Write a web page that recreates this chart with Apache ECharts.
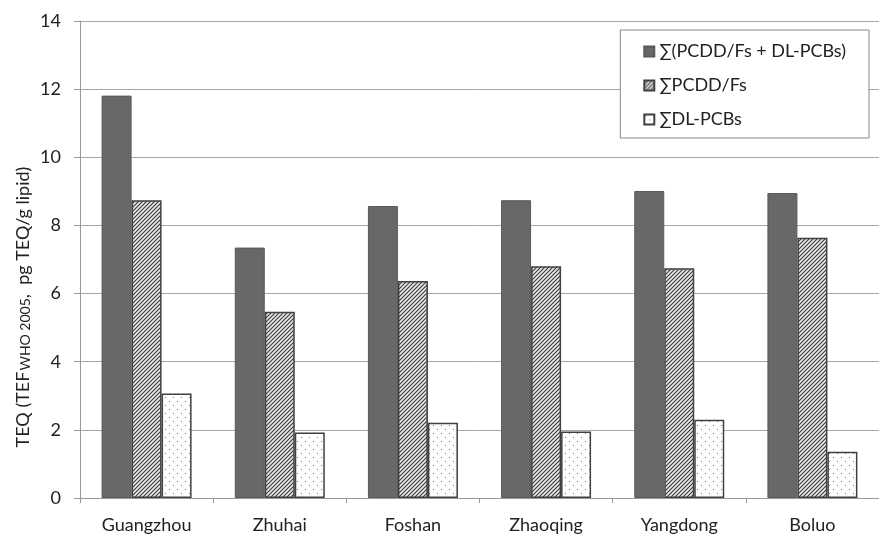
<!DOCTYPE html>
<html>
<head>
<meta charset="utf-8">
<script src="https://cdn.jsdelivr.net/npm/echarts@6/dist/echarts.min.js"></script>
<style>html,body{margin:0;padding:0;background:#fff}#c{width:879px;height:537px}</style>
</head>
<body>
<div id="c"></div>
<script>
var categories = ['Guangzhou', 'Zhuhai', 'Foshan', 'Zhaoqing', 'Yangdong', 'Boluo'];
var totalTEQ = [11.81, 7.35, 8.57, 8.74, 9.01, 8.95];
var pcddfs = [8.74, 5.47, 6.37, 6.80, 6.74, 7.64];
var dlpcbs = [3.07, 1.92, 2.21, 1.95, 2.30, 1.36];
var seriesNames = ['\u2211(PCDD/Fs + DL-PCBs)', '\u2211PCDD/Fs', '\u2211DL-PCBs'];
var yAxisTitle = {pre: 'TEQ (TEF', sub: 'WHO 2005', post: ',  pg TEQ/g lipid)'};

function hatchPattern() {
  var c = document.createElement('canvas');
  c.width = 4; c.height = 4;
  var g = c.getContext('2d');
  g.fillStyle = '#e8e8e8'; g.fillRect(0, 0, 4, 4);
  g.strokeStyle = '#3a3a3a'; g.lineWidth = 1.1;
  g.beginPath();
  g.moveTo(-1, 5); g.lineTo(5, -1);
  g.moveTo(-1, 1); g.lineTo(1, -1);
  g.moveTo(3, 5); g.lineTo(5, 3);
  g.stroke();
  return c;
}
function dotPattern() {
  var c = document.createElement('canvas');
  c.width = 8; c.height = 8;
  var g = c.getContext('2d');
  g.fillStyle = '#ffffff'; g.fillRect(0, 0, 8, 8);
  g.fillStyle = '#777';
  g.fillRect(1, 1, 1, 1);
  g.fillRect(5, 5, 1, 1);
  return c;
}

var chart = echarts.init(document.getElementById('c'), null, {renderer: 'canvas'});
var font = 'Lato, "Open Sans", sans-serif';
chart.setOption({
  animation: false,
  backgroundColor: '#fff',
  grid: {left: 80, top: 21, width: 809, height: 477, containLabel: false},
  graphic: [{
    type: 'text',
    x: 22, y: 307,
    rotation: Math.PI / 2,
    style: {
      text: '{a|' + yAxisTitle.pre + '}{b|' + yAxisTitle.sub + '}{a|' + yAxisTitle.post + '}',
      align: 'center', verticalAlign: 'middle',
      rich: {
        a: {fontFamily: font, fontSize: 18, fill: '#222', lineHeight: 21, verticalAlign: 'bottom'},
        b: {fontFamily: font, fontSize: 14, fill: '#222', lineHeight: 21, verticalAlign: 'bottom', padding: [0, 0, 0, 1]}
      }
    }
  }],
  legend: {
    orient: 'vertical',
    right: 10, top: 30,
    padding: [11, 23, 8, 23],
    itemGap: 13,
    itemWidth: 10, itemHeight: 10,
    backgroundColor: '#fff',
    borderColor: '#888', borderWidth: 1,
    textStyle: {fontFamily: font, fontSize: 18, color: '#222', lineHeight: 21},
    data: [
      {name: seriesNames[0], icon: 'rect'},
      {name: seriesNames[1], icon: 'rect'},
      {name: seriesNames[2], icon: 'rect'}
    ]
  },
  xAxis: {
    type: 'category',
    data: categories,
    axisLine: {lineStyle: {color: '#999', width: 1}},
    axisTick: {show: true, length: 5, lineStyle: {color: '#999'}},
    axisLabel: {fontFamily: font, fontSize: 18, color: '#222', margin: 18}
  },
  yAxis: {
    type: 'value',
    min: 0, max: 14, interval: 2,
    axisLine: {show: true, lineStyle: {color: '#999', width: 1}},
    axisTick: {show: true, length: 6, lineStyle: {color: '#999'}},
    axisLabel: {fontFamily: font, fontSize: 18, color: '#222', margin: 19},
    splitLine: {lineStyle: {color: '#a6a6a6', width: 1}}
  },
  series: [
    {
      name: seriesNames[0], type: 'bar', data: totalTEQ,
      barWidth: 30, barGap: '0%',
      itemStyle: {color: '#686868', borderColor: '#5a5a5a', borderWidth: 1}
    },
    {
      name: seriesNames[1], type: 'bar', data: pcddfs,
      barWidth: 30, barGap: '0%',
      itemStyle: {color: {image: hatchPattern(), repeat: 'repeat'}, borderColor: '#404040', borderWidth: 1.5}
    },
    {
      name: seriesNames[2], type: 'bar', data: dlpcbs,
      barWidth: 30, barGap: '0%',
      itemStyle: {color: {image: dotPattern(), repeat: 'repeat'}, borderColor: '#404040', borderWidth: 1.5}
    }
  ]
});
</script>
</body>
</html>
